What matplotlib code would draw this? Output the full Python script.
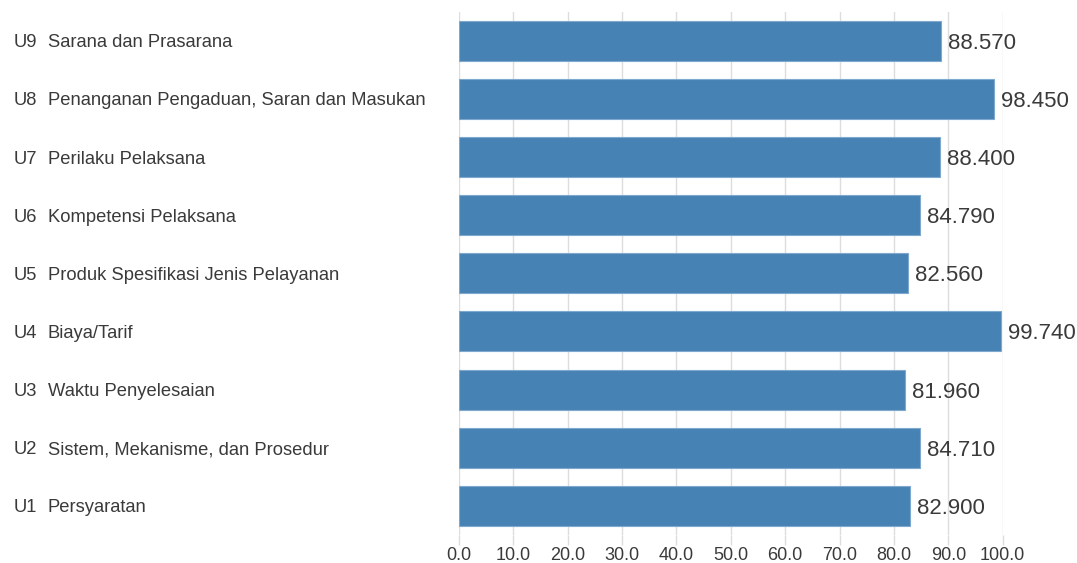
import matplotlib.pyplot as plt
import matplotlib.transforms as mtransforms

plt.rcParams['font.family'] = ['Liberation Sans', 'DejaVu Sans']

# data, bottom to top
codes = ["U1", "U2", "U3", "U4", "U5", "U6", "U7", "U8", "U9"]
names = ["Persyaratan",
         "Sistem, Mekanisme, dan Prosedur",
         "Waktu Penyelesaian",
         "Biaya/Tarif",
         "Produk Spesifikasi Jenis Pelayanan",
         "Kompetensi Pelaksana",
         "Perilaku Pelaksana",
         "Penanganan Pengaduan, Saran dan Masukan",
         "Sarana dan Prasarana"]
values = [82.90, 84.71, 81.96, 99.74, 82.56, 84.79, 88.40, 98.45, 88.57]
xticks = [0, 10, 20, 30, 40, 50, 60, 70, 80, 90, 100]

txt_color = "#3a3a3a"
bar_color = "#4682B4"

fig = plt.figure(figsize=(10.77, 5.63), dpi=100)
ax = fig.add_axes([0.426, 0.050, 0.505, 0.929])

ypos = list(range(len(values)))
ax.barh(ypos, values, height=0.69, color=bar_color, edgecolor="#7fa8cf",
        linewidth=0.8, zorder=3)

for y, v in zip(ypos, values):
    ax.text(v + 1.3, y, "%.3f" % v, va="center_baseline", ha="left",
            fontsize=16, color=txt_color)

# left labels: code right aligned, name left aligned
trans = mtransforms.blended_transform_factory(fig.transFigure, ax.transData)
for y, c, n in zip(ypos, codes, names):
    ax.text(0.0345, y, c, transform=trans, ha="right", va="center_baseline",
            fontsize=13.2, color=txt_color)
    ax.text(0.0445, y, n, transform=trans, ha="left", va="center_baseline",
            fontsize=13.2, color=txt_color)

ax.set_xlim(0, 100)
ax.set_ylim(-0.5, 8.5)
ax.set_yticks([])
ax.set_xticks(xticks)
ax.set_xticklabels(["%.1f" % t for t in xticks], fontsize=13, color=txt_color)
ax.tick_params(axis="x", length=7, color="#dddddd", width=1, pad=2)
ax.grid(axis="x", color="#dddddd", linewidth=1, zorder=0)
for s in ax.spines.values():
    s.set_visible(False)

fig.savefig("out.png", dpi=100)
